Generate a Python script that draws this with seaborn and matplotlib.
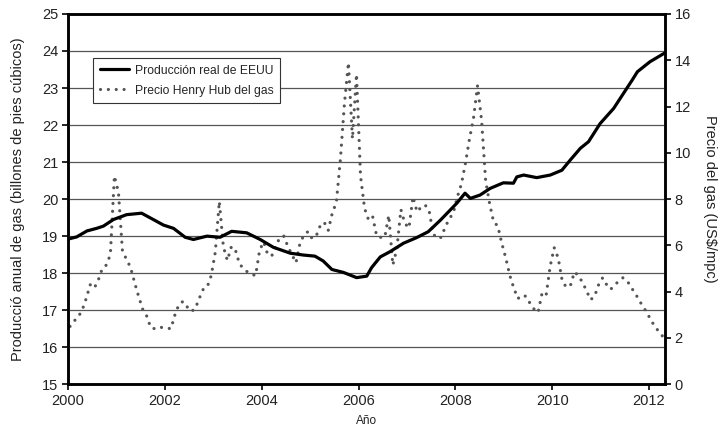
import numpy as np
import pandas as pd
import matplotlib
matplotlib.use("Agg")
import matplotlib.pyplot as plt
import seaborn as sns
from matplotlib.lines import Line2D

# Producción real de EEUU (billones de pies cúbicos)
prod_year = [2000.0, 2000.18, 2000.39, 2000.59, 2000.73, 2000.94, 2001.21, 2001.52,
             2001.76, 2001.97, 2002.18, 2002.42, 2002.59, 2002.87, 2003.14, 2003.38,
             2003.69, 2003.97, 2004.24, 2004.59, 2004.86, 2005.1, 2005.27, 2005.45,
             2005.69, 2005.96, 2006.17, 2006.27, 2006.45, 2006.65, 2006.93, 2007.2,
             2007.44, 2007.69, 2007.89, 2008.03, 2008.2, 2008.31, 2008.51, 2008.72,
             2008.99, 2009.2, 2009.27, 2009.41, 2009.68, 2009.96, 2010.2, 2010.37,
             2010.58, 2010.75, 2010.99, 2011.27, 2011.47, 2011.65, 2011.76, 2012.02,
             2012.33]
prod_value = [18.92, 18.98, 19.14, 19.21, 19.27, 19.45, 19.58, 19.62,
              19.45, 19.3, 19.21, 18.97, 18.91, 19.0, 18.97, 19.13,
              19.09, 18.91, 18.7, 18.54, 18.49, 18.46, 18.33, 18.1,
              18.02, 17.88, 17.92, 18.15, 18.44, 18.58, 18.81, 18.96,
              19.12, 19.43, 19.7, 19.89, 20.16, 20.02, 20.11, 20.29,
              20.44, 20.43, 20.6, 20.65, 20.58, 20.65, 20.78, 21.05,
              21.37, 21.55, 22.04, 22.45, 22.85, 23.21, 23.44, 23.71,
              23.95]

# Precio Henry Hub mensual (US$/mpc), ene-2000 a abr-2012
price_2000 = [2.5, 2.73, 2.9, 3.2, 3.7, 4.3, 4.15, 4.5, 5.0, 5.15, 5.6, 9.0]
price_2001 = [8.3, 5.75, 5.4, 5.05, 4.4, 3.8, 3.25, 2.95, 2.45, 2.4, 2.47, 2.45]
price_2002 = [2.43, 2.4, 3.0, 3.45, 3.58, 3.35, 3.15, 3.25, 3.7, 4.1, 4.2, 4.7]
price_2003 = [5.7, 7.9, 5.95, 5.35, 5.95, 5.8, 5.2, 5.0, 4.85, 4.75, 4.7, 5.8]
price_2004 = [6.15, 5.6, 5.55, 5.95, 6.35, 6.4, 5.95, 5.6, 5.25, 6.1, 6.45, 6.6]
price_2005 = [6.3, 6.4, 6.85, 7.0, 6.65, 7.4, 7.85, 9.7, 12.1, 13.9, 10.6, 13.4]
price_2006 = [9.0, 7.6, 7.1, 7.25, 6.4, 6.35, 6.35, 7.3, 5.15, 5.85, 7.55, 6.95]
price_2007 = [6.75, 8.1, 7.45, 7.65, 7.75, 7.5, 6.5, 6.3, 6.35, 6.8, 7.15, 7.4]
price_2008 = [8.1, 8.65, 9.55, 10.6, 11.5, 12.9, 11.4, 8.8, 7.8, 7.0, 6.85, 6.1]
price_2009 = [5.45, 4.7, 4.15, 3.7, 3.85, 3.8, 3.5, 3.25, 3.1, 3.95, 3.85, 5.1]
price_2010 = [5.9, 5.45, 4.45, 4.2, 4.25, 4.85, 4.7, 4.4, 4.05, 3.65, 3.8, 4.3]
price_2011 = [4.6, 4.3, 4.1, 4.3, 4.45, 4.6, 4.5, 4.2, 3.95, 3.65, 3.35, 3.1]
price_2012 = [2.75, 2.5, 2.25, 2.05]

price_value = (price_2000 + price_2001 + price_2002 + price_2003 + price_2004 +
               price_2005 + price_2006 + price_2007 + price_2008 + price_2009 +
               price_2010 + price_2011 + price_2012)
price_year = [2000 + (i + 0.5) / 12 for i in range(len(price_value))]

left_ticks = list(range(15, 26))
right_ticks = list(range(0, 17, 2))
x_ticks = list(range(2000, 2013, 2))

prod_df = pd.DataFrame({"year": prod_year, "value": prod_value})
price_df = pd.DataFrame({"year": price_year, "value": price_value})

sns.set_theme(style="white")
plt.rcParams["font.family"] = ["Liberation Sans", "DejaVu Sans"]
narrow = ["Liberation Sans Narrow", "Liberation Sans", "DejaVu Sans"]

dot_style = (0, (0.01, 2.45))
dot_color = "#555555"

fig = plt.figure(figsize=(7.18, 4.33), dpi=100)
ax = fig.add_axes([0.0947, 0.1125, 0.8315, 0.8553])
ax2 = ax.twinx()

# precio (eje derecho), línea de puntos gris
sns.lineplot(data=price_df, x="year", y="value", ax=ax2, color=dot_color,
             linewidth=2.3, linestyle=dot_style)
for line in ax2.lines:
    line.set_dash_capstyle("round")
    line.set_dash_joinstyle("round")

# producción (eje izquierdo), línea negra
sns.lineplot(data=prod_df, x="year", y="value", ax=ax, color="black",
             linewidth=2.3)
for line in ax.lines:
    line.set_solid_joinstyle("round")

ax.set_zorder(ax2.get_zorder() + 1)
ax.patch.set_visible(False)

ax.set_xlim(2000, 2012.33)
ax.set_ylim(15, 25)
ax2.set_ylim(0, 16)
ax.set_xticks(x_ticks)
ax.set_yticks(left_ticks)
ax2.set_yticks(right_ticks)

for y in left_ticks[1:-1]:
    ax.axhline(y, color="#555555", linewidth=0.9, zorder=0)

for a in (ax, ax2):
    for side in ("left", "right", "bottom", "top"):
        a.spines[side].set_color("black")
        a.spines[side].set_linewidth(1.8)
    a.tick_params(axis="both", direction="out", length=4, width=1.2,
                  color="black", labelsize=10.5, labelcolor="#222222", pad=3)
ax.tick_params(axis="x", bottom=True)
ax.tick_params(axis="y", left=True)
ax2.tick_params(axis="y", right=True)

ax.set_xlabel("Año", fontsize=8.5, family=narrow, color="#222222", labelpad=5)
ax.set_ylabel("Producció anual de gas (billones de pies cúbicos)", fontsize=10.5,
              color="#222222", labelpad=12)
ax2.set_ylabel("Precio del gas (US$/mpc)", fontsize=10.5, color="#222222",
               rotation=270, labelpad=19)

legend_dots = Line2D([0], [0], color=dot_color, linewidth=2.3, linestyle=dot_style)
legend_dots.set_dash_capstyle("round")
handles = [Line2D([0], [0], color="black", linewidth=2.3), legend_dots]
labels = ["Producción real de EEUU", "Precio Henry Hub del gas"]
leg = ax.legend(handles, labels, loc="upper left", bbox_to_anchor=(0.042, 0.881),
                borderaxespad=0, frameon=True, fancybox=False, framealpha=1,
                edgecolor="#333333", prop={"family": narrow, "size": 8.7},
                handlelength=2.4, handletextpad=0.5, borderpad=0.55,
                labelspacing=0.65)
leg.get_frame().set_linewidth(0.8)

fig.savefig("out.png", dpi=100)
